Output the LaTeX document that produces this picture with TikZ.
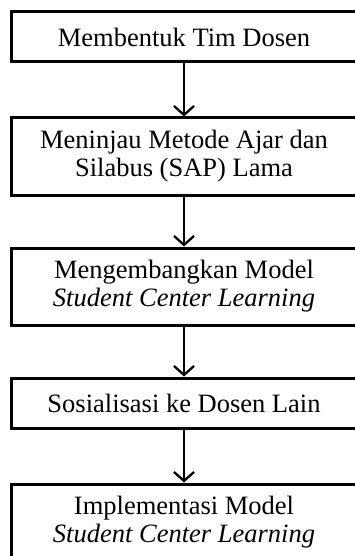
\documentclass[tikz,border=0pt]{standalone}
\usepackage{fontspec}
\setmainfont{Liberation Serif}
\usetikzlibrary{arrows.meta}

\tikzset{stepbox/.style={draw, line width=3pt, rectangle, minimum width=346pt, inner sep=0pt, align=center, font=\fontsize{26.5}{28}\selectfont},
         flowarrow/.style={line width=2.3pt, -{Straight Barb[length=9pt,width=20pt,line width=2.3pt]}}}

\begin{document}
\begin{tikzpicture}[x=1pt,y=-1pt]
   \useasboundingbox (0,0) rectangle (355,556);
   \clip (0,0) rectangle (355,556);
    %boxes, top to bottom
    \node[stepbox, minimum height=50pt] (tim) at (184,37) {Membentuk Tim Dosen};
    \node[stepbox, minimum height=77pt] (tinjau) at (184,156.5) {Meninjau Metode Ajar dan\\Silabus (SAP) Lama};
    \node[stepbox, minimum height=77pt] (kembang) at (184,286.5) {Mengembangkan Model\\\textit{Student Center Learning}};
    \node[stepbox, minimum height=50pt] (sosial) at (184,403) {Sosialisasi ke Dosen Lain};
    \node[stepbox, minimum height=77pt] (implement) at (184,522.5) {Implementasi Model\\\textit{Student Center Learning}};
    %arrows
    \draw[flowarrow] (tim) -- (tinjau);
    \draw[flowarrow] (tinjau) -- (kembang);
    \draw[flowarrow] (kembang) -- (sosial);
    \draw[flowarrow] (sosial) -- (implement);
\end{tikzpicture}
\end{document}
